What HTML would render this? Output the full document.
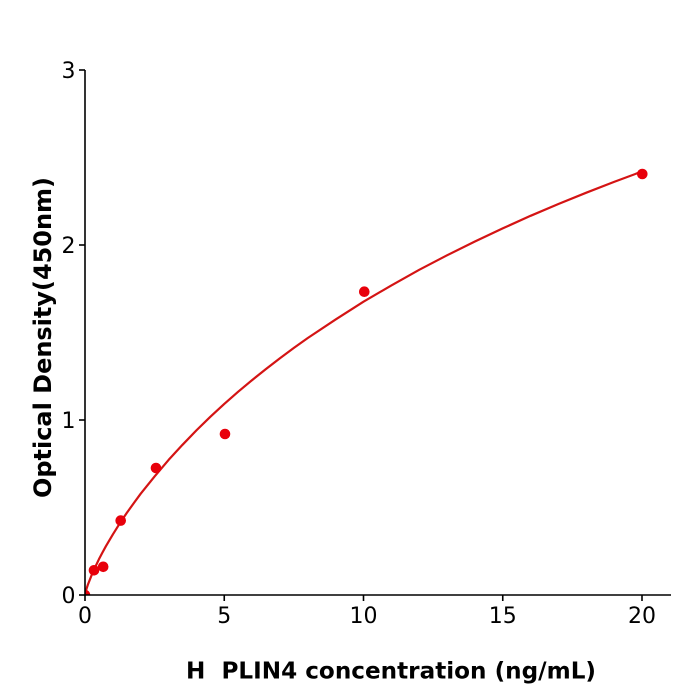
<!DOCTYPE html>
<html>
<head>
<meta charset="utf-8">
<style>
html,body{margin:0;padding:0;background:#fff;}
svg{display:block;}
text{font-family:"DejaVu Sans","Liberation Sans",sans-serif;fill:#000;}
</style>
</head>
<body>
<svg width="700" height="700" viewBox="0 0 700 700" xmlns="http://www.w3.org/2000/svg">
<defs>
<clipPath id="pa"><rect x="85" y="60" width="590" height="535"/></clipPath>
</defs>
<rect width="700" height="700" fill="#fff"/>
<g clip-path="url(#pa)">
<!-- curve -->
<polyline fill="none" stroke="#d41414" stroke-width="2.2" stroke-linejoin="round"
points="85,595 86.4,589.2 87.8,584.9 92,574.2 95.5,566.5 98.9,559.3 102.4,552.6 105.9,546.2 112.85,534.4 119.8,523.3 126.8,512.9 133.8,503.1 140.7,493.7 154.7,476.3 168.6,459.9 182.5,444.8 196.4,430.4 210.3,416.8 224.25,403.9 238.2,391.7 252.1,380.1 266,369 279.95,358.2 293.9,347.9 307.8,338 335.7,319.4 363.5,301.7 391.4,285.4 419.2,269.8 447,255.3 474.9,241.5 502.7,228.4 530.6,215.8 558.4,204 586.3,192.7 614.1,181.9 642,171.5"/>
<!-- points -->
<g fill="#e8000b">
<circle cx="85" cy="595" r="5.3"/>
<circle cx="94" cy="570.3" r="5.3"/>
<circle cx="103.2" cy="566.8" r="5.3"/>
<circle cx="120.7" cy="520.6" r="5.3"/>
<circle cx="156" cy="468" r="5.3"/>
<circle cx="225" cy="434" r="5.3"/>
<circle cx="364.3" cy="291.7" r="5.3"/>
<circle cx="642.3" cy="174" r="5.3"/>
</g>
</g>
<!-- axes -->
<g stroke="#000" stroke-width="1.6" fill="none">
<line x1="85" y1="70" x2="85" y2="595.8"/>
<line x1="84.2" y1="595" x2="671" y2="595"/>
<line x1="85" y1="595" x2="85" y2="601"/>
<line x1="224.25" y1="595" x2="224.25" y2="601"/>
<line x1="363.5" y1="595" x2="363.5" y2="601"/>
<line x1="502.75" y1="595" x2="502.75" y2="601"/>
<line x1="642" y1="595" x2="642" y2="601"/>
<line x1="79" y1="595" x2="85" y2="595"/>
<line x1="79" y1="420" x2="85" y2="420"/>
<line x1="79" y1="245" x2="85" y2="245"/>
<line x1="79" y1="70" x2="85" y2="70"/>
</g>
<!-- tick labels -->
<g font-size="22" text-anchor="middle">
<text x="85" y="623">0</text>
<text x="224.25" y="623">5</text>
<text x="363.5" y="623">10</text>
<text x="502.75" y="623">15</text>
<text x="642" y="623">20</text>
</g>
<g font-size="22" text-anchor="end">
<text x="75.5" y="603">0</text>
<text x="75.5" y="428">1</text>
<text x="75.5" y="253">2</text>
<text x="75.5" y="78">3</text>
</g>
<!-- axis labels -->
<text x="391" y="678.5" font-size="23.5" font-weight="bold" text-anchor="middle" textLength="410" lengthAdjust="spacingAndGlyphs" xml:space="preserve">H  PLIN4 concentration (ng/mL)</text>
<text transform="translate(51,337.5) rotate(-90)" font-size="24" font-weight="bold" text-anchor="middle" textLength="321" lengthAdjust="spacingAndGlyphs">Optical Density(450nm)</text>
</svg>
</body>
</html>
